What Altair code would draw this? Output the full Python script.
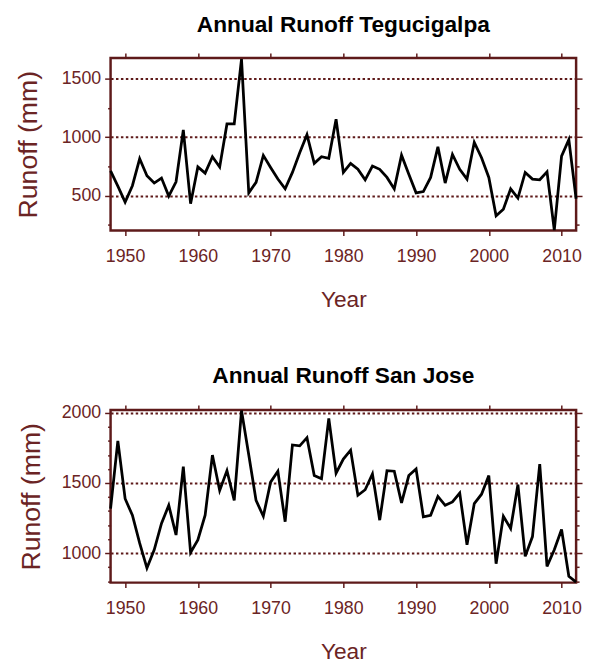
import altair as alt
import pandas as pd

years = list(range(1948, 2013))

teg_runoff = [711, 580, 443, 584, 815, 669, 607, 650, 495, 618,
              1063, 430, 745, 692, 833, 745, 1114, 1114, 1669, 523,
              613, 844, 740, 641, 557, 698, 866, 1021, 776, 833,
              819, 1154, 698, 776, 725, 635, 753, 725, 655, 557,
              846, 683, 523, 534, 655, 917, 607, 852, 725, 641,
              956, 824, 655, 326, 382, 557, 478, 698, 641, 635,
              703, 204, 838, 979, 472]

sj_runoff = [1318, 1800, 1388, 1270, 1071, 894, 1024, 1212, 1341, 1129,
             1616, 1005, 1094, 1270, 1699, 1447, 1588, 1376, 2016, 1700,
             1376, 1263, 1506, 1584, 1224, 1771, 1765, 1823, 1553, 1530,
             1960, 1570, 1670, 1734, 1412, 1452, 1565, 1235, 1588, 1584,
             1358, 1553, 1600, 1259, 1270, 1404, 1341, 1365, 1428, 1059,
             1353, 1420, 1553, 925, 1263, 1176, 1489, 977, 1118, 1635,
             906, 1024, 1169, 835, 793]

titles = ["Annual Runoff Tegucigalpa", "Annual Runoff San Jose"]
x_ticks = [1950, 1960, 1970, 1980, 1990, 2000, 2010]
x_domain = [1948, 2012]
teg_y_ticks = [250, 500, 750, 1000, 1250, 1500]
sj_y_ticks = [800, 900, 1000, 1100, 1200, 1300, 1400, 1500, 1600, 1700, 1800, 1900, 2000]
teg_domain = [200, 1680]
sj_domain = [790, 2020]

MAROON = "#5e1a1a"
TEXT = "#6b2424"
FONT = "Liberation Sans"


def panel(values, title, yticks, ydomain, major, ytitle_pad):
    df = pd.DataFrame({"Year": years, "Runoff": values})
    base = alt.Chart(df)
    is_major = f"datum.value % {major} === 0"
    xscale = alt.Scale(domain=x_domain, nice=False, zero=False)
    yscale = alt.Scale(domain=ydomain, nice=False, zero=False)

    main = base.mark_line(color="black", strokeWidth=2.8).encode(
        x=alt.X("Year:Q", scale=xscale,
                axis=alt.Axis(values=x_ticks, format="d", title="Year", grid=False,
                              domain=False, tickSize=5, tickWidth=1.5, tickColor=MAROON,
                              labelPadding=12, labelFontSize=18, labelColor=TEXT,
                              labelFont=FONT, labelFlush=False, labelOverlap=False,
                              titleFont=FONT, titleFontSize=23, titleColor=TEXT,
                              titleFontWeight="normal", titlePadding=24)),
        y=alt.Y("Runoff:Q", scale=yscale,
                axis=alt.Axis(values=yticks, format="d",
                              labelExpr=f"{is_major} ? datum.label : ''",
                              title="Runoff (mm)", grid=True, gridColor=MAROON,
                              gridDash=[2.5, 2.5], gridWidth=2,
                              gridOpacity={"condition": {"test": is_major, "value": 1}, "value": 0},
                              domain=False,
                              tickSize={"condition": {"test": is_major, "value": 6}, "value": 3},
                              tickWidth=1.5, tickColor=MAROON,
                              labelPadding=4, labelFontSize=18, labelColor=TEXT,
                              labelFont=FONT, labelFlush=False, labelOverlap=False,
                              titleFont=FONT, titleFontSize=27, titleColor=TEXT,
                              titleFontWeight="normal", titlePadding=ytitle_pad)),
    )

    mirror = base.mark_line(strokeOpacity=0).encode(
        x=alt.X("Year:Q", scale=xscale,
                axis=alt.Axis(orient="top", values=x_ticks, labels=False, title=None,
                              grid=False, domain=False, tickSize=5, tickWidth=1.5,
                              tickColor=MAROON)),
        y=alt.Y("Runoff:Q", scale=yscale,
                axis=alt.Axis(orient="right", values=yticks, labels=False, title=None,
                              grid=False, domain=False,
                              tickSize={"condition": {"test": is_major, "value": 6}, "value": 3},
                              tickWidth=1.5, tickColor=MAROON)),
    )

    return alt.layer(main, mirror).resolve_axis(x="independent", y="independent").properties(
        width=472, height=175,
        title=alt.TitleParams(title, fontSize=23, font=FONT, fontWeight="bold", color="black",
                              anchor="middle", frame="group", offset=16),
    )


top = panel(teg_runoff, titles[0], teg_y_ticks, teg_domain, 500, 19)
bottom = panel(sj_runoff, titles[1], sj_y_ticks, sj_domain, 500, 16)

chart = alt.vconcat(top, bottom, spacing=51).properties(
    padding={"left": 5, "top": 0, "right": 0, "bottom": 0}
).configure_view(stroke=MAROON, strokeWidth=2.5)

chart.save("out.html", embed_options={"renderer": "svg", "actions": False})
